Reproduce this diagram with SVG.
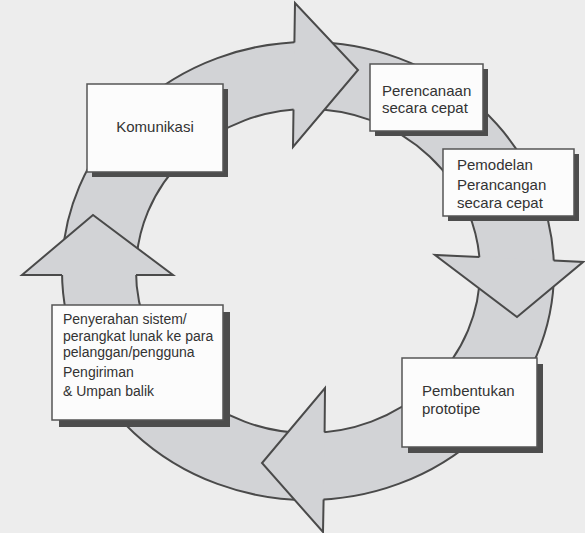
<svg xmlns="http://www.w3.org/2000/svg" width="585" height="533" viewBox="0 0 585 533">
<style>
.ring{fill:#d2d3d6;stroke:#4a4a4a;stroke-width:2;fill-rule:evenodd}
.head{fill:#d2d3d6;stroke:none}
.edge{fill:none;stroke:#4a4a4a;stroke-width:2;stroke-linejoin:miter}
.box{fill:#fcfcfc;stroke:#555;stroke-width:1.5}
.shadow{fill:#4d4d4d}
.t{font-family:"Liberation Sans",Arial,sans-serif;font-size:15px;fill:#333}
.s{font-size:14px}
</style>
<rect x="0" y="0" width="585" height="533" fill="#ededed"/>
<g id="connectors">
<path class="ring" d="M62,271 A246,229 0 1 0 554,271 A246,229 0 1 0 62,271 Z M136,271 A172,162 0 1 0 480,271 A172,162 0 1 0 136,271 Z"/>
<polygon class="head" points="295,3 358,70 293,147"/>
<polyline class="edge" points="294.4,42.4 295,3 358,70 293,147 293.5,109.5"/>
<polygon class="head" points="435,255 517,317 583,262"/>
<polyline class="edge" points="479.4,257.1 435,255 517,317 583,262 553.7,260.6"/>
<polygon class="head" points="325,388 262,463 323,532"/>
<polyline class="edge" points="324.6,432.2 325,388 262,463 323,532 323.6,499.5"/>
<polygon class="head" points="93,215 22,275 173,275"/>
<polyline class="edge" points="62,275 22,275 93,215 173,275 136,275"/>
</g>
<g id="komunikasi">
<rect class="shadow" x="92" y="89" width="136" height="88"/>
<rect class="box" x="87" y="84" width="136" height="88"/>
<text class="t" x="155" y="132" text-anchor="middle">Komunikasi</text>
</g>
<g id="perencanaan">
<rect class="shadow" x="375" y="69" width="113" height="67"/>
<rect class="box" x="370" y="64" width="113" height="67"/>
<text class="t" x="382" y="96">Perencanaan</text>
<text class="t" x="382" y="113">secara cepat</text>
</g>
<g id="pemodelan">
<rect class="shadow" x="448" y="154" width="131" height="67"/>
<rect class="box" x="443" y="149" width="131" height="67"/>
<text class="t" x="457" y="170">Pemodelan</text>
<text class="t" x="457" y="190">Perancangan</text>
<text class="t" x="457" y="208">secara cepat</text>
</g>
<g id="pembentukan">
<rect class="shadow" x="408" y="364" width="135" height="89"/>
<rect class="box" x="402" y="358" width="135" height="89"/>
<text class="t" x="422" y="396">Pembentukan</text>
<text class="t" x="422" y="414">prototipe</text>
</g>
<g id="penyerahan">
<rect class="shadow" x="59" y="312" width="171" height="115"/>
<rect class="box" x="52" y="305" width="171" height="115"/>
<text class="t s" x="63" y="324">Penyerahan sistem/</text>
<text class="t s" x="63" y="341">perangkat lunak ke para</text>
<text class="t s" x="63" y="357">pelanggan/pengguna</text>
<text class="t s" x="63" y="377">Pengiriman</text>
<text class="t s" x="63" y="396">&amp; Umpan balik</text>
</g>
</svg>
